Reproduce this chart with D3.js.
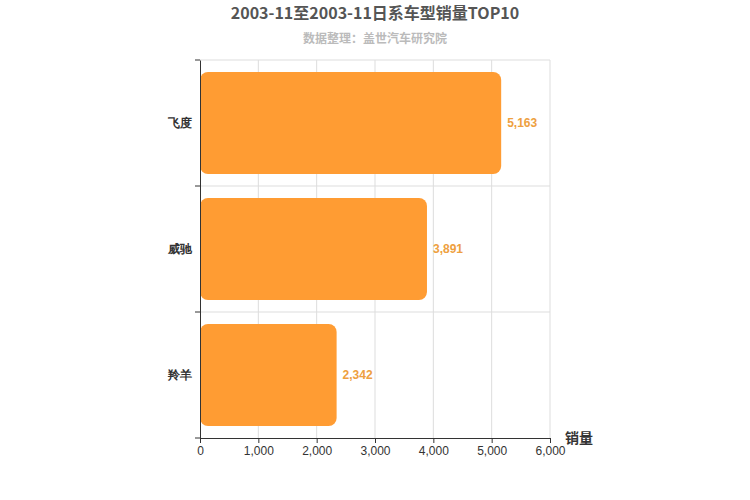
<!DOCTYPE html>
<html><head><meta charset="utf-8">
<script src="https://cdn.jsdelivr.net/npm/d3@7"></script>
<style>body{margin:0;background:#fff;font-family:"Noto Sans CJK SC","Liberation Sans",sans-serif}</style>
</head><body><div class="content"></div>
<script>
//--> Data
const models = ["飞度", "威驰", "羚羊"];
const sales = [5163, 3891, 2342];
const xTicks = [0, 1000, 2000, 3000, 4000, 5000, 6000];

const width = 750, height = 500;
const plotLeft = 200, plotRight = 550, plotTop = 60, plotBottom = 438;

const svg = d3.select(".content").append("svg")
  .attr("width", width).attr("height", height);

svg.append("text").attr("x", 375).attr("y", 19).attr("text-anchor", "middle")
  .attr("font-size", 16).attr("font-weight", "bold").attr("fill", "#555")
  .text("2003-11至2003-11日系车型销量TOP10");
svg.append("text").attr("x", 375).attr("y", 43).attr("text-anchor", "middle")
  .attr("font-size", 12).attr("font-weight", "bold").attr("fill", "#bbb")
  .text("数据整理：盖世汽车研究院");

const x = d3.scaleLinear().domain([0, 6000]).range([plotLeft, plotRight]);
const y = d3.scaleBand().domain(models).range([plotTop, plotBottom]);

//--> Grid
svg.append("g").selectAll("line").data(xTicks.slice(1)).join("line")
  .attr("x1", d => x(d)).attr("x2", d => x(d))
  .attr("y1", plotTop).attr("y2", plotBottom).attr("stroke", "#ddd");
svg.append("g").selectAll("line").data(models).join("line")
  .attr("x1", plotLeft).attr("x2", plotRight)
  .attr("y1", d => y(d)).attr("y2", d => y(d)).attr("stroke", "#ddd");

//--> Bars
const pad = 12;
svg.append("g").selectAll("rect").data(models).join("rect")
  .attr("x", plotLeft).attr("y", d => y(d) + pad)
  .attr("width", (d, i) => x(sales[i]) - plotLeft)
  .attr("height", y.bandwidth() - pad * 2)
  .attr("rx", 8).attr("fill", "#ff9c33");
svg.append("g").selectAll("text").data(models).join("text")
  .attr("x", (d, i) => x(sales[i]) + 6)
  .attr("y", d => y(d) + y.bandwidth() / 2 + 4)
  .attr("font-size", 12).attr("font-weight", "bold").attr("fill", "#eea040")
  .attr("font-family", "Liberation Sans, sans-serif")
  .text((d, i) => d3.format(",")(sales[i]));

//--> Axes
const xAxis = svg.append("g").attr("transform", `translate(0,${plotBottom})`)
  .call(d3.axisBottom(x).tickValues(xTicks).tickFormat(d3.format(",")).tickSize(5));
xAxis.selectAll("text").attr("font-size", 12).attr("fill", "#333")
  .attr("font-family", "Liberation Sans, sans-serif");
xAxis.selectAll("line,path").attr("stroke", "#333");

const yAxis = svg.append("g").attr("transform", `translate(${plotLeft},0)`)
  .call(d3.axisLeft(y).tickSize(0).tickPadding(8));
yAxis.selectAll("text").attr("font-size", 12).attr("font-weight", "bold").attr("fill", "#333");
yAxis.select("path").attr("stroke", "#333");
svg.append("g").selectAll("line").data([plotTop, ...models.map(d => y(d) + y.bandwidth())]).join("line")
  .attr("x1", plotLeft - 5).attr("x2", plotLeft).attr("y1", d => d).attr("y2", d => d).attr("stroke", "#333");

svg.append("text").attr("x", 565).attr("y", 443).attr("font-size", 14)
  .attr("font-weight", "bold").attr("fill", "#333").text("销量");
</script></body></html>
